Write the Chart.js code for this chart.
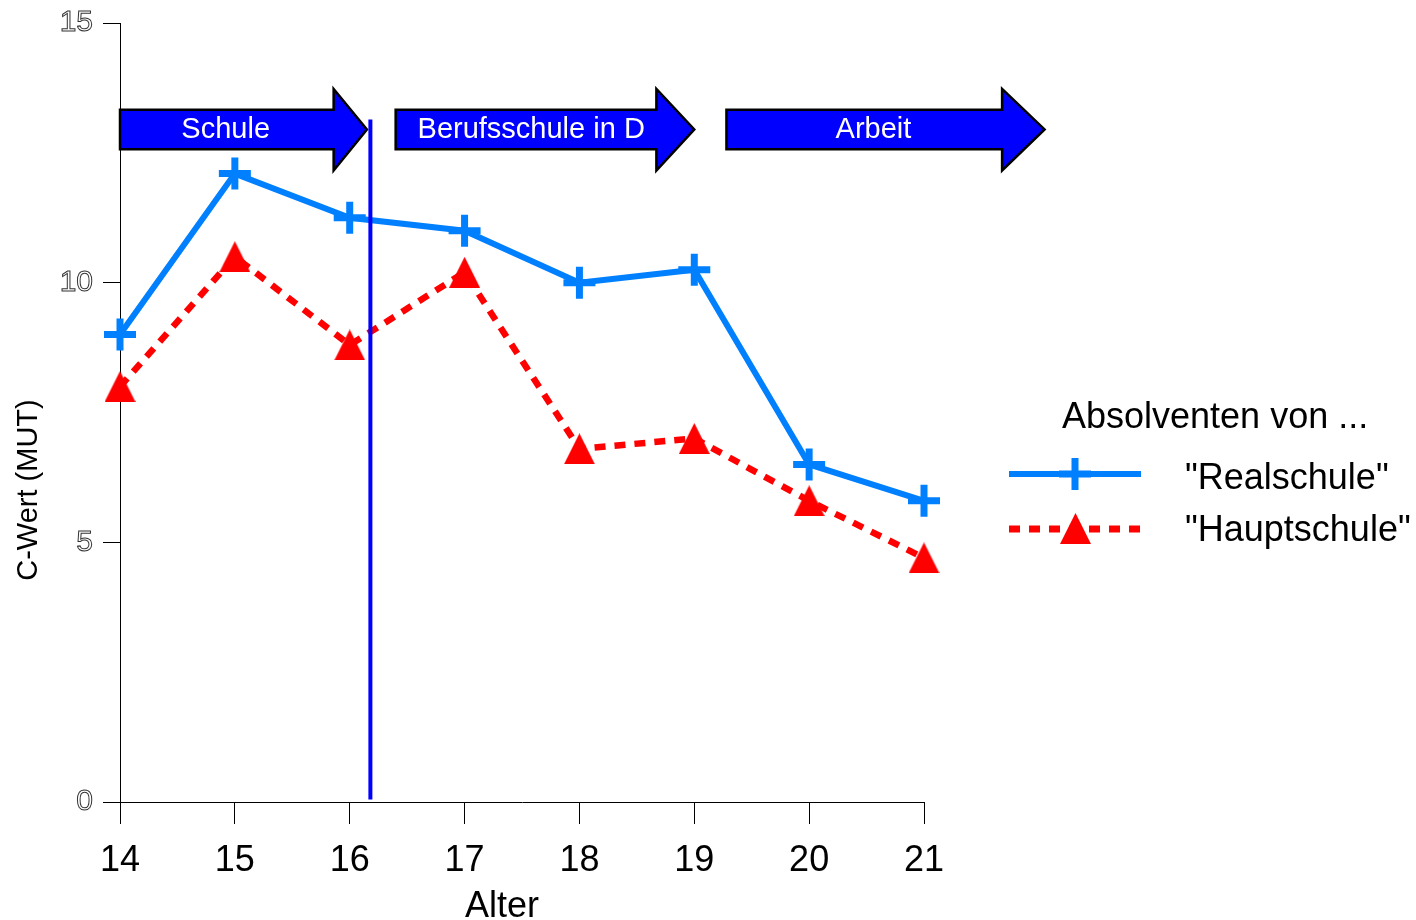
<!DOCTYPE html>
<html>
<head>
<meta charset="utf-8">
<script src="https://cdn.jsdelivr.net/npm/chart.js@4.4.1/dist/chart.umd.min.js"></script>
<style>
  html, body { margin: 0; padding: 0; background: #fff; }
</style>
</head>
<body>
<canvas id="mutChart" width="1416" height="920"></canvas>
<script>
const ages = [14, 15, 16, 17, 18, 19, 20, 21];
const realschule = [9.0, 12.1, 11.25, 11.0, 10.0, 10.25, 6.5, 5.8];
const hauptschule = [8.0, 10.5, 8.8, 10.2, 6.8, 7.0, 5.8, 4.7];
const seriesNames = ['"Realschule"', '"Hauptschule"'];
const legendTitle = "Absolventen von ...";
const xTitle = "Alter";
const yTitle = "C-Wert (MUT)";

// phase arrows (x in years, y in C-Wert units)
const phaseLabels = ["Schule", "Berufsschule in D", "Arbeit"];
const phaseStart = [14, 16.4, 19.28];
const phaseNeck = [15.86, 18.67, 21.68];
const phaseTip = [16.15, 19.0, 22.05];
const phaseTextX = [14.92, 17.58, 20.56];
const arrowBody = [13.33, 12.57];
const arrowHead = [13.73, 12.16];
const arrowTipY = 12.95;

// vertical separator
const divideAge = 16.18;
const divideRange = [0.05, 13.14];

const FONT = "'Liberation Sans', Arial, sans-serif";
const BLUE = "#0080ff";
const RED = "#ff0000";

function triangleImage(w, h, color) {
  const c = document.createElement("canvas");
  c.width = w;
  c.height = h;
  const g = c.getContext("2d");
  g.fillStyle = color;
  g.beginPath();
  g.moveTo(w / 2, 0);
  g.lineTo(w, h);
  g.lineTo(0, h);
  g.closePath();
  g.fill();
  return c;
}
const triangle = triangleImage(31, 31, RED);

const extras = {
  id: "extras",
  beforeDatasetsDraw(chart) {
    const ctx = chart.ctx;
    const xs = chart.scales.x, ys = chart.scales.y;
    ctx.save();
    phaseLabels.forEach((label, i) => {
      const x0 = xs.getPixelForValue(phaseStart[i]);
      const x1 = xs.getPixelForValue(phaseNeck[i]);
      const x2 = xs.getPixelForValue(phaseTip[i]);
      const bt = ys.getPixelForValue(arrowBody[0]);
      const bb = ys.getPixelForValue(arrowBody[1]);
      const ht = ys.getPixelForValue(arrowHead[0]);
      const hb = ys.getPixelForValue(arrowHead[1]);
      const ty = ys.getPixelForValue(arrowTipY);
      ctx.beginPath();
      ctx.moveTo(x0, bt);
      ctx.lineTo(x1, bt);
      ctx.lineTo(x1, ht);
      ctx.lineTo(x2, ty);
      ctx.lineTo(x1, hb);
      ctx.lineTo(x1, bb);
      ctx.lineTo(x0, bb);
      ctx.closePath();
      ctx.fillStyle = "#0000ff";
      ctx.fill();
      ctx.lineWidth = 2.5;
      ctx.strokeStyle = "#000";
      ctx.lineJoin = "miter";
      ctx.stroke();
      ctx.fillStyle = "#fff";
      ctx.font = "29px " + FONT;
      ctx.textAlign = "center";
      ctx.textBaseline = "middle";
      ctx.fillText(label, xs.getPixelForValue(phaseTextX[i]), ty + 1);
    });
    ctx.restore();
  },
  afterDraw(chart) {
    const ctx = chart.ctx;
    ctx.save();
    ctx.fillStyle = "#000";

    // axis titles
    ctx.font = "36px " + FONT;
    ctx.textAlign = "center";
    ctx.textBaseline = "alphabetic";
    ctx.fillText(xTitle, 502, 917);

    ctx.save();
    ctx.translate(29, 490);
    ctx.rotate(-Math.PI / 2);
    ctx.font = "29px " + FONT;
    ctx.textBaseline = "middle";
    ctx.fillText(yTitle, 0, 0);
    ctx.restore();

    // legend
    ctx.textAlign = "left";
    ctx.font = "36px " + FONT;
    ctx.fillText(legendTitle, 1062, 428);

    ctx.lineWidth = 6;
    ctx.strokeStyle = BLUE;
    ctx.beginPath();
    ctx.moveTo(1009, 474);
    ctx.lineTo(1141, 474);
    ctx.stroke();
    ctx.lineWidth = 7;
    ctx.beginPath();
    ctx.moveTo(1059, 474);
    ctx.lineTo(1091, 474);
    ctx.moveTo(1075, 458);
    ctx.lineTo(1075, 490);
    ctx.stroke();

    ctx.strokeStyle = RED;
    ctx.lineWidth = 7;
    ctx.setLineDash([11, 9]);
    ctx.beginPath();
    ctx.moveTo(1009, 529);
    ctx.lineTo(1141, 529);
    ctx.stroke();
    ctx.setLineDash([]);
    ctx.drawImage(triangle, 1060, 513);

    ctx.fillStyle = "#000";
    ctx.fillText(seriesNames[0], 1185, 489);
    ctx.fillText(seriesNames[1], 1185, 541);
    ctx.restore();
  }
};

const ctx = document.getElementById("mutChart").getContext("2d");
const mutChart = new Chart(ctx, {
  type: "line",
  data: {
    datasets: [
      {
        label: "Grenze",
        data: divideRange.map(v => ({ x: divideAge, y: v })),
        borderColor: "#0000ff",
        borderWidth: 4,
        pointRadius: 0,
        clip: false
      },
      {
        label: seriesNames[0],
        data: ages.map((a, i) => ({ x: a, y: realschule[i] })),
        borderColor: BLUE,
        backgroundColor: BLUE,
        borderWidth: 6,
        pointStyle: "cross",
        pointRadius: 16,
        pointBorderWidth: 7,
        pointBorderColor: BLUE,
        tension: 0,
        clip: false
      },
      {
        label: seriesNames[1],
        data: ages.map((a, i) => ({ x: a, y: hauptschule[i] })),
        borderColor: RED,
        backgroundColor: RED,
        borderWidth: 6.5,
        borderDash: [11, 9],
        pointStyle: triangle,
        pointRadius: 16,
        tension: 0,
        clip: false
      }
    ]
  },
  options: {
    responsive: false,
    devicePixelRatio: 1,
    animation: false,
    layout: { padding: { top: 20, right: 492, left: 0, bottom: 0 } },
    plugins: { legend: { display: false }, tooltip: { enabled: false } },
    scales: {
      x: {
        type: "linear",
        min: 14,
        max: 21,
        afterFit: scale => {
          scale.height = 118;
          scale.paddingLeft = 0;
          scale.paddingRight = 0;
        },
        ticks: { stepSize: 1, color: "#000", padding: 15, font: { family: FONT, size: 36 } },
        grid: { drawOnChartArea: false, tickLength: 22, color: "#000", lineWidth: 1 },
        border: { color: "#000", width: 1 }
      },
      y: {
        min: 0,
        max: 15,
        afterFit: scale => {
          scale.width = 120;
          scale.paddingTop = 0;
          scale.paddingBottom = 0;
        },
        ticks: {
          stepSize: 5,
          color: "rgba(0,0,0,0)",
          textStrokeColor: "#333",
          textStrokeWidth: 1,
          padding: 10,
          font: { family: FONT, size: 30 }
        },
        grid: { drawOnChartArea: false, tickLength: 17, color: "#000", lineWidth: 1 },
        border: { color: "#000", width: 1 }
      }
    }
  },
  plugins: [extras]
});
</script>
</body>
</html>
